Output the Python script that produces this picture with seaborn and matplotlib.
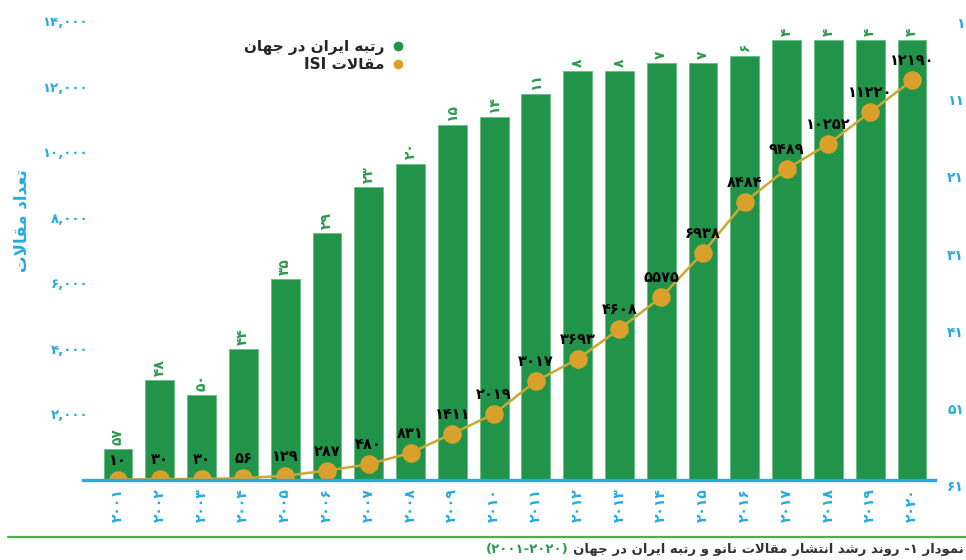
import numpy as np
import pandas as pd
import matplotlib
matplotlib.use("Agg")
import matplotlib.pyplot as plt
import seaborn as sns
from matplotlib.lines import Line2D

# ---------------- data ----------------
years = [2001, 2002, 2003, 2004, 2005, 2006, 2007, 2008, 2009, 2010,
         2011, 2012, 2013, 2014, 2015, 2016, 2017, 2018, 2019, 2020]
isi_articles = [10, 30, 30, 56, 129, 287, 480, 831, 1411, 2019,
                3017, 3693, 4608, 5575, 6938, 8484, 9489, 10252, 11220, 12190]
iran_rank = [57, 48, 50, 44, 35, 29, 23, 20, 15, 14,
             11, 8, 8, 7, 7, 6, 4, 4, 4, 4]
left_ticks = [0, 2000, 4000, 6000, 8000, 10000, 12000, 14000]
right_ticks = [1, 11, 21, 31, 41, 51, 61]
rank_base = 61

legend_rank = "رتبه ایران در جهان"
legend_isi_word = "مقالات"
y_title = "تعداد مقالات"
caption_first = "نمودار"
caption_rest = "روند رشد انتشار مقالات نانو و رتبه ایران در جهان"

# ---------------- minimal Persian shaping ----------------
FORMS = {
    'ا': ('\uFE8D', '\uFE8E', None, None),
    'ب': ('\uFE8F', '\uFE90', '\uFE91', '\uFE92'),
    'ت': ('\uFE95', '\uFE96', '\uFE97', '\uFE98'),
    'ج': ('\uFE9D', '\uFE9E', '\uFE9F', '\uFEA0'),
    'د': ('\uFEA9', '\uFEAA', None, None),
    'ر': ('\uFEAD', '\uFEAE', None, None),
    'ش': ('\uFEB5', '\uFEB6', '\uFEB7', '\uFEB8'),
    'ع': ('\uFEC9', '\uFECA', '\uFECB', '\uFECC'),
    'ق': ('\uFED5', '\uFED6', '\uFED7', '\uFED8'),
    'ل': ('\uFEDD', '\uFEDE', '\uFEDF', '\uFEE0'),
    'م': ('\uFEE1', '\uFEE2', '\uFEE3', '\uFEE4'),
    'ن': ('\uFEE5', '\uFEE6', '\uFEE7', '\uFEE8'),
    'ه': ('\uFEE9', '\uFEEA', '\uFEEB', '\uFEEC'),
    'و': ('\uFEED', '\uFEEE', None, None),
    'ی': ('\uFBFC', '\uFBFD', '\uFEF3', '\uFEF4'),
}


def _dual(c):
    return c in FORMS and FORMS[c][2] is not None


def shape(word):
    out = []
    i, n = 0, len(word)
    while i < n:
        c = word[i]
        if c not in FORMS:
            out.append(c)
            i += 1
            continue
        pj = i > 0 and _dual(word[i - 1])
        if c == 'ل' and i + 1 < n and word[i + 1] == 'ا':
            out.append('\uFEFC' if pj else '\uFEFB')
            i += 2
            continue
        nj = _dual(c) and i + 1 < n and word[i + 1] in FORMS
        iso, fin, ini, med = FORMS[c]
        if pj and nj:
            out.append(med)
        elif pj:
            out.append(fin)
        elif nj:
            out.append(ini)
        else:
            out.append(iso)
        i += 1
    return ''.join(out)


def rtl(text):
    return shape(text)[::-1]


FA_DIGITS = str.maketrans('0123456789', '۰۱۲۳۴۵۶۷۸۹')


def fa(v):
    return str(v).translate(FA_DIGITS)


# ---------------- style ----------------
GREEN = '#22944a'
GREEN_TXT = '#2e9a4e'
GOLD = '#d9a12c'
GOLD_LINE = '#c9a930'
CYAN = '#25aae1'

sns.set_theme(style='white')
plt.rcParams['font.family'] = ['DejaVu Sans']

fig = plt.figure(figsize=(9.66, 5.6), dpi=100)
ax = fig.add_axes([83 / 966, 80 / 560, 852 / 966, 463 / 560])
ax2 = ax.twinx()

df = pd.DataFrame({
    'year': [fa(y) for y in years],
    'isi': isi_articles,
    'rank': iran_rank,
})
df['bar_h'] = df['rank'] - rank_base

# bars: rank (right axis, inverted)
sns.barplot(data=df, x='year', y='bar_h', ax=ax2, color=GREEN, saturation=1,
            width=0.69, errorbar=None, bottom=rank_base,
            edgecolor='#6fbf86', linewidth=0.7)

# line: ISI articles (left axis)
sns.pointplot(data=df, x='year', y='isi', ax=ax, color=GOLD_LINE,
              markers='o', markersize=12, linewidth=1.8, errorbar=None,
              markerfacecolor=GOLD, markeredgecolor=GOLD)

ax.set_zorder(2)
ax2.set_zorder(1)
ax.patch.set_visible(False)

# axes limits
ax.set_xlim(-0.837, 19.55)
ax.set_ylim(0, 14122)
ax2.set_ylim(rank_base, 1)

for a in (ax, ax2):
    for s in a.spines.values():
        s.set_visible(False)
ax.spines['bottom'].set_visible(True)
ax.spines['bottom'].set_color(CYAN)
ax.spines['bottom'].set_linewidth(2.4)

# ticks
ax.set_xticks(range(len(years)))
ax.set_xticklabels([fa(y) for y in years], rotation=90, color=CYAN,
                   fontsize=10, fontweight='bold')
ax.tick_params(axis='x', length=0, pad=6)

ax.set_yticks(left_ticks)
ax.set_yticklabels([fa(f"{t:,}") for t in left_ticks], color=CYAN,
                   fontsize=9.5, fontweight='bold')
ax.tick_params(axis='y', length=0, pad=-3.6)

ax2.set_yticks(right_ticks)
ax2.set_yticklabels([fa(t) for t in right_ticks], color=CYAN, fontsize=10,
                    fontweight='bold', ha='right', va='top')
ax2.tick_params(axis='y', length=0, pad=21)

ax.set_xlabel('')
ax2.set_xlabel('')
ax2.set_ylabel('')
ax.set_ylabel(rtl(y_title), color=CYAN, fontsize=12, fontweight='bold')
ax.yaxis.set_label_coords(-0.062, 0.56)
ax.grid(False)
ax2.grid(False)

# rank labels on bars
for i, r in enumerate(iran_rank):
    ax2.annotate(fa(r), xy=(i, r), xytext=(0, 3), textcoords='offset points',
                 rotation=90, ha='center', va='bottom', color=GREEN_TXT,
                 fontsize=10, fontweight='bold')

# ISI value labels
for i, v in enumerate(isi_articles):
    ax.annotate(fa(v), xy=(i, v), xytext=(0, 14), textcoords='offset points',
                ha='center', va='center', color='black', fontsize=10.5,
                fontweight='bold', zorder=5)

# legend
handles = [Line2D([], [], marker='o', linestyle='', color=GREEN, markersize=6),
           Line2D([], [], marker='o', linestyle='', color=GOLD, markersize=6)]
labels = [rtl(legend_rank), 'ISI ' + rtl(legend_isi_word)]
fig.legend(handles, labels, loc='upper right', bbox_to_anchor=(404 / 966, 1 - 39 / 560),
           frameon=False, markerfirst=False, handlelength=0.8, handletextpad=0.5,
           labelspacing=0.15, borderpad=0, borderaxespad=0,
           prop={'size': 11, 'weight': 'bold'})

# divider and caption
fig.add_artist(Line2D([8 / 966, 1.0], [1 - 537 / 560] * 2, transform=fig.transFigure,
                      color='#4caf50', linewidth=1.6))
caption_main = rtl(caption_rest) + ' -' + fa(1) + ' ' + rtl(caption_first)
cap = fig.text(964 / 966, 1 - 550 / 560, caption_main, ha='right', va='center',
               fontsize=9.5, fontweight='bold', color='#333333')
fig.canvas.draw()
bb = cap.get_window_extent()
fig.text((bb.x0 - 5) / 966, 1 - 550 / 560, '(' + fa(2001) + '-' + fa(2020) + ')',
         ha='right', va='center', fontsize=9.5, fontweight='bold', color=GREEN_TXT)

fig.savefig('out.png', dpi=100)
